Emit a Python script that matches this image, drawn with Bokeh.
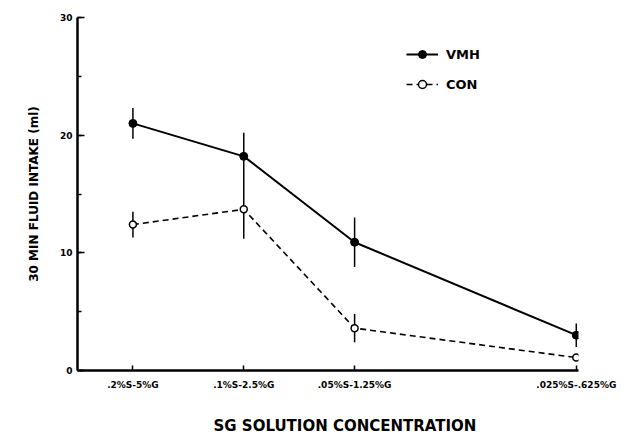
from bokeh.plotting import figure
from bokeh.models import Range1d, FixedTicker, SingleIntervalTicker, Legend, LegendItem, ColumnDataSource, Title
from bokeh.embed import file_html
from bokeh.resources import INLINE

# data
x_pos = [1, 2, 3, 5]
x_labels = [".2%S-5%G", ".1%S-2.5%G", ".05%S-1.25%G", ".025%S-.625%G"]
vmh = [21.0, 18.2, 10.9, 3.0]
vmh_err = [1.3, 2.0, 2.1, 1.0]
con = [12.4, 13.7, 3.6, 1.1]
con_err = [1.1, 2.5, 1.2, 0.3]

FONT = "DejaVu Sans"

p = figure(width=640, height=437, output_backend="svg", toolbar_location=None,
           x_range=Range1d(0.5, 5.02), y_range=Range1d(0, 30),
           min_border_left=77, min_border_top=17, min_border_bottom=67, min_border_right=62)
p.outline_line_color = None
p.grid.grid_line_color = None

def src(vals, errs):
    return ColumnDataSource(dict(x=x_pos, y=vals,
                                 lo=[v - e for v, e in zip(vals, errs)],
                                 hi=[v + e for v, e in zip(vals, errs)]))

s_vmh = src(vmh, vmh_err)
s_con = src(con, con_err)

p.segment(x0="x", y0="lo", x1="x", y1="hi", source=s_vmh, line_color="black", line_width=1.5)
p.segment(x0="x", y0="lo", x1="x", y1="hi", source=s_con, line_color="black", line_width=1.5)

l1 = p.line("x", "y", source=s_vmh, line_color="black", line_width=2)
m1 = p.scatter("x", "y", source=s_vmh, size=8, marker="circle", fill_color="black", line_color="black")
l2 = p.line("x", "y", source=s_con, line_color="black", line_width=1.6, line_dash="6 4")
m2 = p.scatter("x", "y", source=s_con, size=7, marker="circle", fill_color="white", line_color="black", line_width=1.5)

legend = Legend(items=[LegendItem(label="VMH", renderers=[l1, m1]),
                       LegendItem(label="CON", renderers=[l2, m2])],
                location=(329, 276), border_line_color=None, background_fill_alpha=0,
                label_text_font=FONT, label_text_font_style="bold", label_text_font_size="13px",
                label_text_color="black",
                glyph_width=32, glyph_height=20, label_height=20, spacing=10, padding=0, margin=0,
                label_standoff=8)
p.add_layout(legend)

# axes
xa = p.xaxis[0]
xa.ticker = FixedTicker(ticks=x_pos)
xa.major_label_overrides = {k: v for k, v in zip(x_pos, x_labels)}
xa.major_tick_in = 5
xa.major_tick_out = 0
xa.minor_tick_in = 0
xa.minor_tick_out = 0
xa.axis_line_width = 2.5
xa.axis_line_color = "black"
xa.major_tick_line_width = 1.5
xa.major_tick_line_color = "black"
xa.major_label_text_font = FONT
xa.major_label_text_font_style = "bold"
xa.major_label_text_font_size = "9px"
xa.major_label_text_color = "black"
xa.major_label_standoff = 9

spacer = Title(text=" ", standoff=0, text_font=FONT, text_font_size="17px")
p.add_layout(spacer, "below")
xtitle = Title(text="SG SOLUTION CONCENTRATION", align="left", offset=136, standoff=1,
               text_font=FONT, text_font_style="bold", text_font_size="15px", text_color="black")
p.add_layout(xtitle, "below")

ya = p.yaxis[0]
ya.ticker = SingleIntervalTicker(interval=10, num_minor_ticks=2)
ya.major_tick_in = 7
ya.major_tick_out = 0
ya.minor_tick_in = 4
ya.minor_tick_out = 0
ya.axis_line_width = 2.5
ya.axis_line_color = "black"
ya.major_tick_line_width = 1.5
ya.minor_tick_line_width = 1.5
ya.major_tick_line_color = "black"
ya.minor_tick_line_color = "black"
ya.major_label_text_font = FONT
ya.major_label_text_font_style = "bold"
ya.major_label_text_font_size = "9px"
ya.major_label_text_color = "black"
ya.major_label_standoff = 5
ya.axis_label = "30 MIN FLUID INTAKE (ml)"
ya.axis_label_text_font = FONT
ya.axis_label_text_font_style = "bold"
ya.axis_label_text_font_size = "12px"
ya.axis_label_text_color = "black"
ya.axis_label_standoff = 16

open("out.html", "w").write(file_html(p, INLINE))
